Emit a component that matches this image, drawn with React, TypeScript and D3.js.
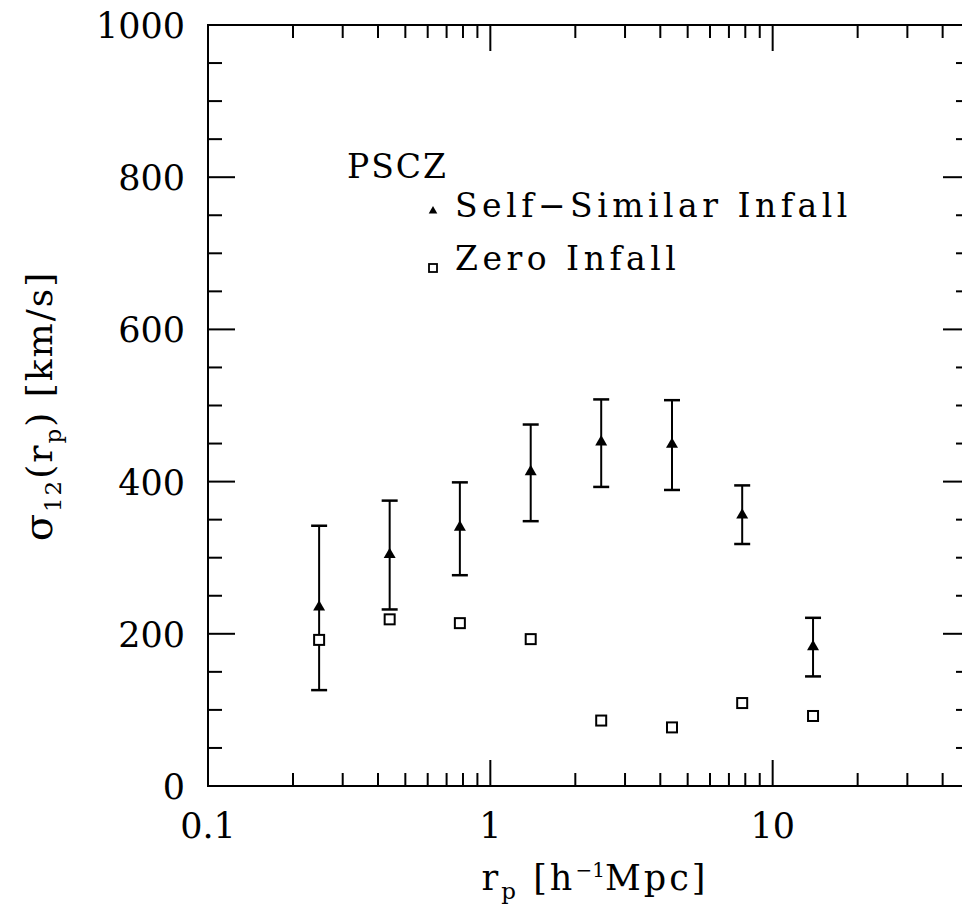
import * as d3 from "d3";
import { useEffect, useRef } from "react";

// separations r_p (h^-1 Mpc)
const rp = [0.2475, 0.44, 0.78, 1.39, 2.47, 4.4, 7.8, 13.9];
// self-similar infall: value, upper and lower error
const sigmaInfall = [235, 304, 340, 413, 452, 449, 356, 183];
const errHigh = [342, 375, 399, 475, 508, 507, 395, 221];
const errLow = [126, 232, 277, 348, 393, 389, 318, 144];
// zero infall
const sigmaZero = [192, 219, 214, 193, 86, 77, 109, 92];

const xMajor = [0.1, 1, 10];
const xMinor = [0.2, 0.3, 0.4, 0.5, 0.6, 0.7, 0.8, 0.9, 2, 3, 4, 5, 6, 7, 8, 9, 20, 30, 40];
const yMajor = [0, 200, 400, 600, 800, 1000];
const yMinor = d3.range(0, 1001, 50).filter((v) => v % 200 !== 0);

const FONT = "'DejaVu Serif', serif";

const App = () => {
  const ref = useRef<SVGSVGElement>(null);

  useEffect(() => {
    document.body.style.margin = "0";
    const svg = d3.select(ref.current);
    svg.selectAll("*").remove();
    const width = 962;
    const height = 912;
    svg.attr("width", width).attr("height", height);

    const margin = { left: 208, top: 25, right: 970, bottom: 786 };

    const x = d3.scaleLog().domain([0.1, 50]).range([margin.left, margin.right]);
    const y = d3.scaleLinear().domain([0, 1000]).range([margin.bottom, margin.top]);

    const g = svg.append("g").attr("stroke", "black").attr("fill", "none");

    // frame
    g.append("rect")
      .attr("x", margin.left)
      .attr("y", margin.top)
      .attr("width", margin.right - margin.left)
      .attr("height", margin.bottom - margin.top)
      .attr("stroke-width", 2);

    // x ticks (bottom and top)
    const xt = [
      ...xMajor.map((v) => ({ v, len: 26 })),
      ...xMinor.map((v) => ({ v, len: 13 })),
    ];
    xt.forEach(({ v, len }) => {
      g.append("line")
        .attr("x1", x(v)).attr("x2", x(v))
        .attr("y1", margin.bottom).attr("y2", margin.bottom - len)
        .attr("stroke-width", 2);
      g.append("line")
        .attr("x1", x(v)).attr("x2", x(v))
        .attr("y1", margin.top).attr("y2", margin.top + len)
        .attr("stroke-width", 2);
    });

    // y ticks (left and right)
    const yt = [
      ...yMajor.map((v) => ({ v, len: 27 })),
      ...yMinor.map((v) => ({ v, len: 14 })),
    ];
    yt.forEach(({ v, len }) => {
      g.append("line")
        .attr("x1", margin.left).attr("x2", margin.left + len)
        .attr("y1", y(v)).attr("y2", y(v))
        .attr("stroke-width", 2);
      g.append("line")
        .attr("x1", margin.right).attr("x2", margin.right - len)
        .attr("y1", y(v)).attr("y2", y(v))
        .attr("stroke-width", 2);
    });

    // tick labels
    const labels = svg.append("g").attr("font-family", FONT).attr("fill", "black");
    labels.selectAll(".xl")
      .data(xMajor)
      .enter()
      .append("text")
      .attr("x", (d) => x(d))
      .attr("y", 838)
      .attr("text-anchor", "middle")
      .attr("font-size", 35)
      .text((d) => String(d));
    labels.selectAll(".yl")
      .data(yMajor)
      .enter()
      .append("text")
      .attr("x", 185)
      .attr("y", (d) => y(d) + 13)
      .attr("text-anchor", "end")
      .attr("font-size", 35)
      .text((d) => String(d));

    // axis titles
    const xTitle = labels.append("text")
      .attr("x", 595)
      .attr("y", 890)
      .attr("text-anchor", "middle")
      .attr("font-size", 35)
      .attr("letter-spacing", 3);
    xTitle.append("tspan").text("r");
    xTitle.append("tspan").attr("font-size", 23).attr("dy", 9).text("p");
    xTitle.append("tspan").attr("dy", -9).text("  [h");
    xTitle.append("tspan").attr("font-size", 20).attr("dy", -13).attr("letter-spacing", 0).text("−1");
    xTitle.append("tspan").attr("dy", 13).text("Mpc]");

    const yTitle = labels.append("text")
      .attr("transform", "translate(52,406) rotate(-90)")
      .attr("text-anchor", "middle")
      .attr("font-size", 36)
      .attr("letter-spacing", 2);
    yTitle.append("tspan").attr("font-size", 40).text("σ");
    yTitle.append("tspan").attr("font-size", 23).attr("dy", 9).text("12");
    yTitle.append("tspan").attr("dy", -9).text("(r");
    yTitle.append("tspan").attr("font-size", 23).attr("dy", 9).text("p");
    yTitle.append("tspan").attr("dy", -9).text(")  [km/s]");

    // error bars
    const bars = svg.append("g").attr("stroke", "black");
    rp.forEach((r, i) => {
      const cx = x(r);
      bars.append("line")
        .attr("x1", cx).attr("x2", cx)
        .attr("y1", y(errLow[i])).attr("y2", y(errHigh[i]))
        .attr("stroke-width", 2);
      [errLow[i], errHigh[i]].forEach((e) => {
        bars.append("line")
          .attr("x1", cx - 8).attr("x2", cx + 8)
          .attr("y1", y(e)).attr("y2", y(e))
          .attr("stroke-width", 2.5);
      });
    });

    const tri = d3.symbol().type(d3.symbolTriangle).size(62);
    svg.append("g")
      .selectAll("path")
      .data(rp)
      .enter()
      .append("path")
      .attr("d", tri)
      .attr("transform", (d, i) => `translate(${x(d)},${y(sigmaInfall[i])})`)
      .attr("fill", "black");

    svg.append("g")
      .selectAll("rect")
      .data(rp)
      .enter()
      .append("rect")
      .attr("x", (d) => x(d) - 5)
      .attr("y", (d, i) => y(sigmaZero[i]) - 5)
      .attr("width", 10)
      .attr("height", 10)
      .attr("fill", "white")
      .attr("stroke", "black")
      .attr("stroke-width", 2);

    // legend
    const leg = svg.append("g").attr("font-family", FONT).attr("font-size", 33).attr("letter-spacing", 4.5);
    leg.append("text").attr("x", 347).attr("y", 178).attr("letter-spacing", 2).text("PSCZ");
    leg.append("path")
      .attr("d", d3.symbol().type(d3.symbolTriangle).size(32))
      .attr("transform", "translate(433,211)")
      .attr("fill", "black");
    leg.append("text").attr("x", 455).attr("y", 217).text("Self−Similar Infall");
    leg.append("rect")
      .attr("x", 429).attr("y", 264)
      .attr("width", 8).attr("height", 8)
      .attr("fill", "white").attr("stroke", "black").attr("stroke-width", 1.8);
    leg.append("text").attr("x", 455).attr("y", 270).text("Zero Infall");
  }, []);

  return <svg ref={ref} style={{ display: "block" }}></svg>;
};

export default App;
